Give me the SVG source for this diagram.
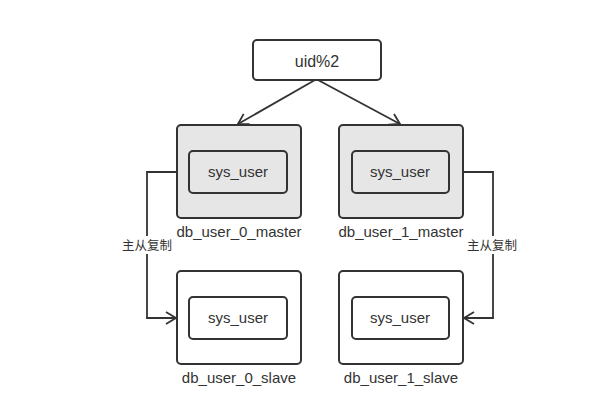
<svg xmlns="http://www.w3.org/2000/svg" width="606" height="416" viewBox="0 0 606 416">
<defs>
<style>
.box{fill:#fff;stroke:#333;stroke-width:2}
.master{fill:#e6e6e6;stroke:#333;stroke-width:2}
.t{font-family:"Liberation Sans",Arial,sans-serif;font-size:15px;fill:#333;text-anchor:middle}
.cn{font-family:"Liberation Sans","Noto Sans CJK SC",sans-serif;font-size:12.5px;fill:#333;text-anchor:middle}
.edge{fill:none;stroke:#333;stroke-width:1.8}
</style>
<marker id="arr" viewBox="0 0 14 14" refX="12" refY="7" markerWidth="14" markerHeight="14" markerUnits="userSpaceOnUse" orient="auto">
<path d="M2,1 L12,7 L2,13" fill="none" stroke="#333" stroke-width="1.8"/>
</marker>
</defs>
<rect width="606" height="416" fill="#fff"/>
<g id="connectors">
<path class="edge" d="M315,80 L238,124" marker-end="url(#arr)"/>
<path class="edge" d="M318,80 L400,124" marker-end="url(#arr)"/>
<path class="edge" d="M177,172 H147 V318 H176" marker-end="url(#arr)"/>
<path class="edge" d="M463,172 H493 V318 H464" marker-end="url(#arr)"/>
<rect x="120" y="236" width="54" height="18" fill="#fff"/>
<text class="cn" x="147" y="250">主从复制</text>
<rect x="465" y="236" width="54" height="18" fill="#fff"/>
<text class="cn" x="492" y="250">主从复制</text>
</g>
<g id="uid">
<rect class="box" x="253" y="40" width="128" height="40" rx="4"/>
<text class="t" x="317" y="67" style="font-size:16px">uid%2</text>
</g>
<g id="master0">
<rect class="master" x="177" y="125" width="124" height="93" rx="4"/>
<rect class="master" x="189" y="151" width="98" height="42" rx="4"/>
<text class="t" x="238" y="177">sys_user</text>
<text class="t" x="239" y="237">db_user_0_master</text>
</g>
<g id="master1">
<rect class="master" x="339" y="125" width="124" height="93" rx="4"/>
<rect class="master" x="352" y="151" width="97" height="42" rx="4"/>
<text class="t" x="400" y="177">sys_user</text>
<text class="t" x="401" y="237">db_user_1_master</text>
</g>
<g id="slave0">
<rect class="box" x="177" y="271" width="124" height="93" rx="4"/>
<rect class="box" x="189" y="297" width="98" height="42" rx="4"/>
<text class="t" x="238" y="323">sys_user</text>
<text class="t" x="239" y="383">db_user_0_slave</text>
</g>
<g id="slave1">
<rect class="box" x="339" y="271" width="124" height="93" rx="4"/>
<rect class="box" x="352" y="297" width="97" height="42" rx="4"/>
<text class="t" x="400" y="323">sys_user</text>
<text class="t" x="401" y="383">db_user_1_slave</text>
</g>
</svg>
